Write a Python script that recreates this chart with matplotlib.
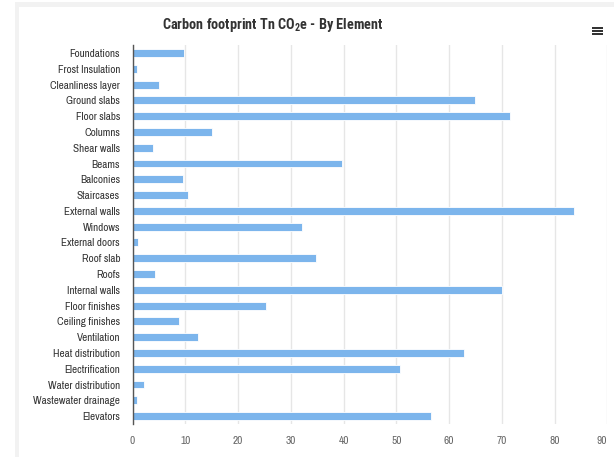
import matplotlib
matplotlib.use("Agg")
import matplotlib.pyplot as plt
from matplotlib.patches import Rectangle

categories = [
    "Foundations", "Frost Insulation", "Cleanliness layer", "Ground slabs",
    "Floor slabs", "Columns", "Shear walls", "Beams", "Balconies",
    "Staircases", "External walls", "Windows", "External doors", "Roof slab",
    "Roofs", "Internal walls", "Floor finishes", "Ceiling finishes",
    "Ventilation", "Heat distribution", "Electrification",
    "Water distribution", "Wastewater drainage", "Elevators",
]
values = [
    9.8, 0.8, 5.0, 65.0,
    71.5, 15.1, 3.8, 39.8, 9.6,
    10.5, 83.6, 32.1, 1.1, 34.8,
    4.3, 70.1, 25.4, 8.9,
    12.4, 62.8, 50.8,
    2.1, 0.8, 56.6,
]
x_ticks = [0, 10, 20, 30, 40, 50, 60, 70, 80, 90]
title = "Carbon footprint Tn CO$_\\mathregular{2}$e - By Element"

W, H = 614, 457
plt.rcParams["font.family"] = ["Archivo Narrow", "Liberation Sans", "DejaVu Sans"]
title_family = ["Roboto Condensed", "Barlow Semi Condensed", "Liberation Sans", "DejaVu Sans"]
fig = plt.figure(figsize=(W / 100, H / 100), dpi=100)
fig.patch.set_facecolor("white")

def px(x0, y0, w, h, color):
    fig.patches.append(Rectangle((x0 / W, 1 - (y0 + h) / H), w / W, h / H,
                                 transform=fig.transFigure, facecolor=color,
                                 edgecolor="none", zorder=0))

# light page frame around the chart container
px(15, 2, W - 15, 5, "#f2f2f2")
px(15, 2, 4, H - 2, "#f2f2f2")

left, right = 132.5, 607.3
top, bottom = 45.1, 424.0
ax = fig.add_axes([left / W, 1 - bottom / H, (right - left) / W, (bottom - top) / H])

ypos = list(range(len(categories)))
ax.barh(ypos, values, height=0.5, color="#7cb5ec", edgecolor="white",
        linewidth=0.6, zorder=3)

ax.set_xlim(0, 90)
ax.set_ylim(len(categories) - 0.5, -0.5)
ax.set_xticks(x_ticks)
xlabels = ax.set_xticklabels([str(t) for t in x_ticks], fontsize=8.2, color="#666666")
xlabels[-1].set_horizontalalignment("right")
ax.set_yticks(ypos)
ax.set_yticklabels(categories, fontsize=8.0, color="#333333")
ax.tick_params(axis="x", length=0, pad=9)
ax.tick_params(axis="y", length=0, pad=9)
ax.grid(axis="x", color="#e6e6e6", linewidth=1, zorder=0)
for side in ("top", "right", "bottom"):
    ax.spines[side].set_visible(False)
ax.spines["left"].set_color("#555555")
ax.spines["left"].set_linewidth(1)
ax.spines["left"].set_zorder(4)

fig.text(273 / W, 1 - 25.5 / H, title, ha="center", va="center",
         fontsize=10.3, fontweight="bold", color="#333333", family=title_family)

# context menu icon
for yy in (27.0, 29.8, 32.6):
    px(592, yy, 11, 2.0, "#333333")

fig.savefig("out.png", dpi=100, facecolor="white")
